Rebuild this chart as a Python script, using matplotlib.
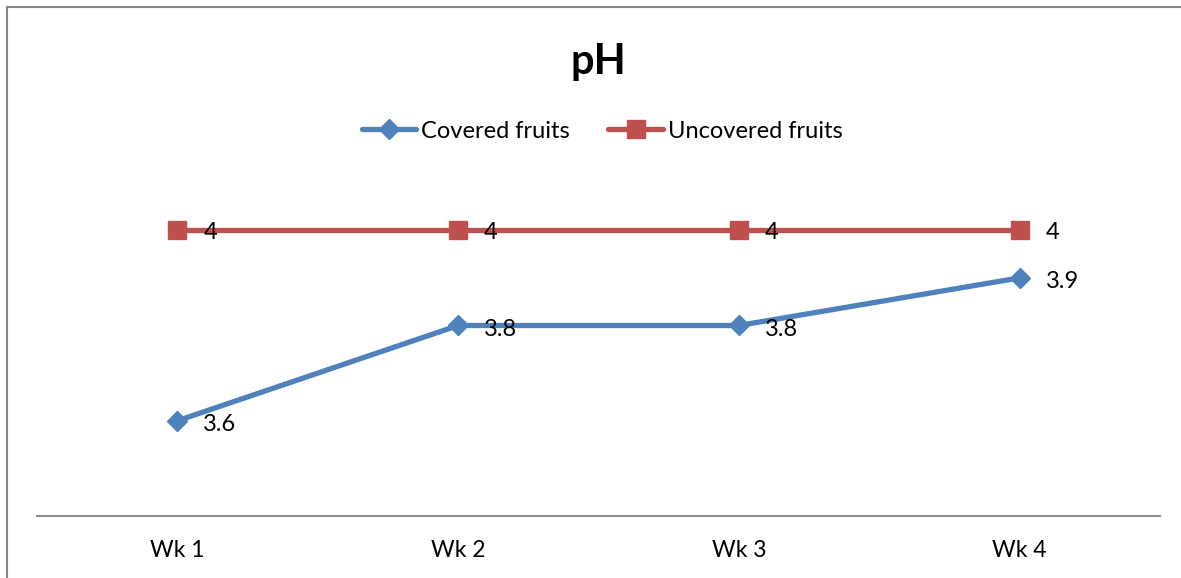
import matplotlib
matplotlib.use("Agg")
import matplotlib.pyplot as plt
from matplotlib.patches import Rectangle

plt.rcParams['font.family'] = ['Lato', 'DejaVu Sans']

categories = ["Wk 1", "Wk 2", "Wk 3", "Wk 4"]
covered = [3.6, 3.8, 3.8, 3.9]
uncovered = [4, 4, 4, 4]
labels_cov = ["3.6", "3.8", "3.8", "3.9"]
labels_unc = ["4", "4", "4", "4"]

BLUE = "#4F81BD"
RED = "#C0504D"

fig = plt.figure(figsize=(11.81, 5.78), dpi=100)
ax = fig.add_axes([37/1181, 1-516/578, (1160-37)/1181, (516-135)/578])

x = list(range(len(categories)))
ax.plot(x, uncovered, color=RED, lw=3.8, marker='s', markersize=13,
        label="Uncovered fruits", solid_capstyle='round', zorder=3)
ax.plot(x, covered, color=BLUE, lw=3.8, marker='D', markersize=10.5,
        label="Covered fruits", solid_capstyle='round', zorder=3)

for xi, v, t in zip(x, covered, labels_cov):
    ax.annotate(t, (xi, v), xytext=(26, -4), textcoords='offset pixels',
                ha='left', va='center', fontsize=17, color='black')
for xi, v, t in zip(x, uncovered, labels_unc):
    ax.annotate(t, (xi, v), xytext=(26, -2), textcoords='offset pixels',
                ha='left', va='center', fontsize=17, color='black')

ax.set_xlim(-0.5, 3.5)
ax.set_ylim(3.4, 4.2)
ax.set_xticks(x)
ax.set_xticklabels(categories, fontsize=16.5)
ax.tick_params(axis='x', length=0, pad=17)
ax.set_yticks([])
for s in ['top', 'right', 'left']:
    ax.spines[s].set_visible(False)
ax.spines['bottom'].set_color('#8C8C8C')
ax.spines['bottom'].set_linewidth(1.5)

fig.text(598/1181, 1-62/578, "pH", ha='center', va='center',
         fontsize=30, fontweight='bold')

handles, labs = ax.get_legend_handles_labels()
order = [1, 0]
fig.legend([handles[i] for i in order], [labs[i] for i in order],
           loc='center', bbox_to_anchor=(602/1181, 1-131/578), ncol=2,
           frameon=False, fontsize=17, handlelength=2.3, handletextpad=0.2,
           columnspacing=1.65)

fig.patches.append(Rectangle((7/1181, -0.1), 1.2, 1-7/578+0.1,
                             transform=fig.transFigure, fill=False,
                             edgecolor='#878787', lw=1.5))

fig.savefig("out.png", dpi=100)
